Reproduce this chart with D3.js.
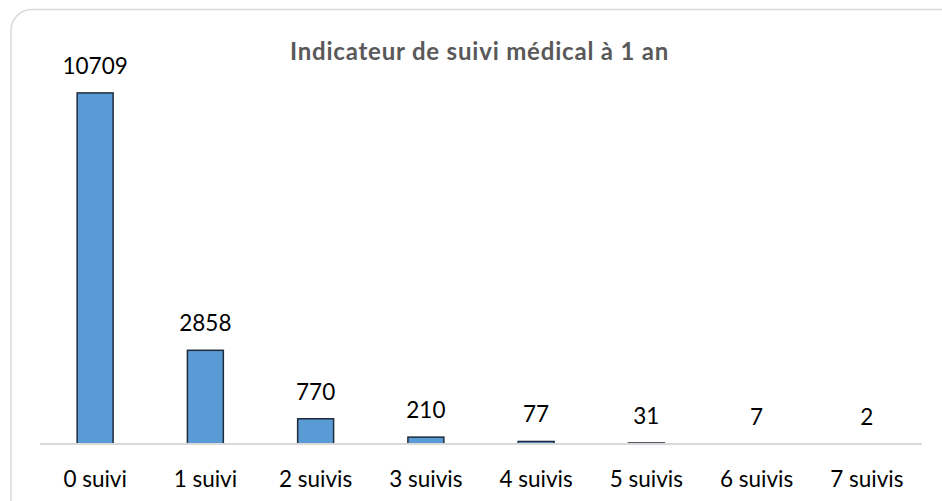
<!DOCTYPE html>
<html>
<head>
<meta charset="utf-8">
<script src="https://cdn.jsdelivr.net/npm/d3@7"></script>
<style>
  html, body { margin: 0; padding: 0; background: #ffffff; }
  svg { display: block; }
</style>
</head>
<body>
<script>
const categories = ["0 suivi", "1 suivi", "2 suivis", "3 suivis", "4 suivis", "5 suivis", "6 suivis", "7 suivis"];
const values = [10709, 2858, 770, 210, 77, 31, 7, 2];
const title = "Indicateur de suivi médical à 1 an";

const W = 942, H = 501;
const svg = d3.select("body").append("svg").attr("width", W).attr("height", H);

svg.append("rect")
  .attr("x", 11).attr("y", 9.5)
  .attr("width", 950).attr("height", 520)
  .attr("rx", 21).attr("ry", 21)
  .attr("fill", "#ffffff")
  .attr("stroke", "#d9d9d9")
  .attr("stroke-width", 1.5);

const plot = { left: 40, right: 922, top: 50.6, bottom: 444 };

const x = d3.scaleBand()
  .domain(categories)
  .range([plot.left, plot.right])
  .paddingInner(0.674)
  .paddingOuter(0.337);

const y = d3.scaleLinear()
  .domain([0, 12000])
  .range([plot.bottom, plot.top]);

const font = "Lato, 'Open Sans', sans-serif";

svg.append("text")
  .attr("x", 479.5)
  .attr("y", 59.5)
  .attr("text-anchor", "middle")
  .attr("font-family", font)
  .attr("font-weight", "bold")
  .attr("font-size", 24)
  .attr("letter-spacing", 0.8)
  .attr("fill", "#595959")
  .text(title);

svg.append("g")
  .selectAll("rect")
  .data(values)
  .join("rect")
  .attr("x", (d, i) => x(categories[i]))
  .attr("y", d => y(d))
  .attr("width", x.bandwidth())
  .attr("height", d => plot.bottom - y(d))
  .attr("fill", "#5b9bd5")
  .attr("stroke", "#1f2b3a")
  .attr("stroke-width", 1.5);

const axis = svg.append("g")
  .attr("transform", `translate(0,${plot.bottom})`)
  .call(d3.axisBottom(x).tickSize(0).tickPadding(0));
axis.select(".domain")
  .attr("d", `M${plot.left},0H${plot.right}`)
  .attr("stroke", "#d9d9d9")
  .attr("stroke-width", 2);
axis.selectAll(".tick text")
  .attr("dy", 0)
  .attr("y", 42.5)
  .attr("font-family", font)
  .attr("font-size", 22.5)
  .attr("fill", "#000000");

svg.append("g")
  .selectAll("text")
  .data(values)
  .join("text")
  .attr("x", (d, i) => x(categories[i]) + x.bandwidth() / 2)
  .attr("y", d => y(d) - 19)
  .attr("text-anchor", "middle")
  .attr("font-family", font)
  .attr("font-size", 22.5)
  .attr("fill", "#000000")
  .text(d => d);
</script>
</body>
</html>
